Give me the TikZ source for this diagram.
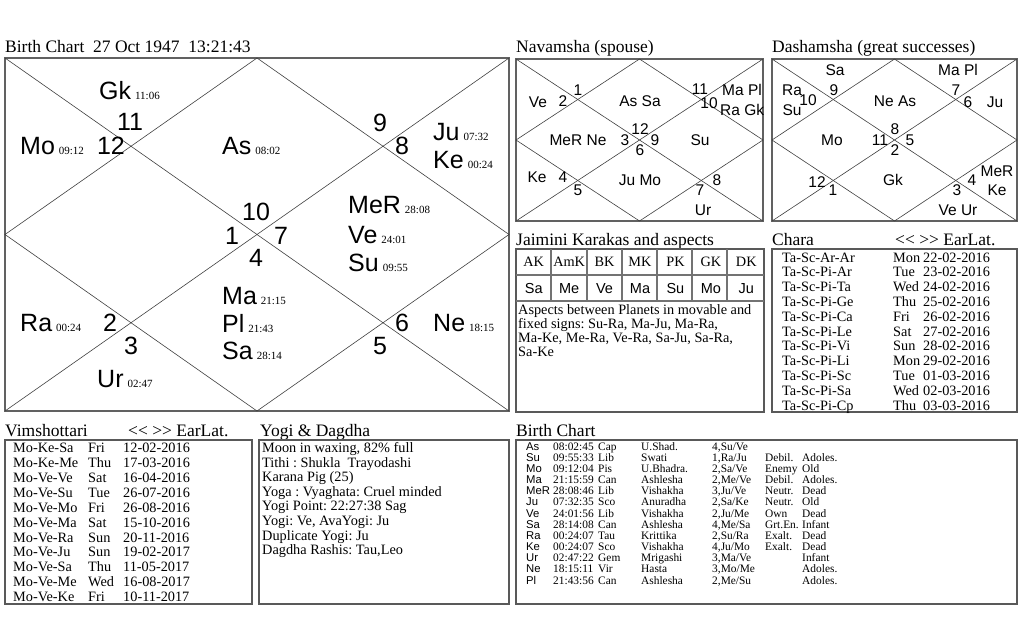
\documentclass[tikz,border=0pt]{standalone}
\usepackage{fontspec}
\setmainfont{Liberation Serif}
\setsansfont{Liberation Sans}
\frenchspacing
\newcommand{\dg}[1]{\hspace{4pt}{\fontsize{11}{11}\rmfamily #1}}
\tikzset{
 box/.style={draw=black!62, line width=2pt},
 tbox/.style={draw=black!65, line width=1.3pt},
 cl/.style={draw=black!75, line width=0.6pt},
 grid/.style={draw=black!55, line width=1.2pt},
 pl/.style={anchor=base west, inner sep=0pt, font=\fontsize{25}{25}\sffamily},
 num/.style={inner sep=0pt, font=\fontsize{25}{25}\sffamily},
 sm/.style={inner sep=0pt, font=\fontsize{15.5}{15.5}\sffamily},
 smw/.style={sm, anchor=west},
 ttl/.style={anchor=base west, inner sep=0pt, font=\fontsize{17.5}{17.5}\selectfont},
 row/.style={anchor=base west, inner sep=0pt, font=\fontsize{14.3}{14.3}\selectfont},
 hd/.style={inner sep=0pt, font=\fontsize{14.3}{14.3}\selectfont},
 hds/.style={inner sep=0pt, font=\fontsize{14.5}{14.5}\sffamily},
 bc/.style={anchor=base west, inner sep=0pt, font=\fontsize{11.4}{11.4}\selectfont},
 bcs/.style={anchor=base west, inner sep=0pt, font=\fontsize{11.3}{11.3}\sffamily},
}
\newcommand{\bcrow}[8]{%
 \pgfmathsetmacro{\yb}{450+#1*11.17}
 \node[bcs] (bn#1) at (526,\yb) {#2};
 \node[bc] (bd#1) at (553,\yb) {#3};
 \node[bc] (bs#1) at (598,\yb) {#4};
 \node[bc] (bk#1) at (641,\yb) {#5};
 \node[bc] (bp#1) at (712,\yb) {#6};
 \node[bc] (bg#1) at (765,\yb) {#7};
 \node[bc] (ba#1) at (802,\yb) {#8};
}
\newcommand{\vrow}[4]{%
 \pgfmathsetmacro{\yb}{452.6+#1*14.9}
 \node[row] (va#1) at (13,\yb) {#2};
 \node[row] (vb#1) at (88,\yb) {#3};
 \node[row] (vc#1) at (123,\yb) {#4};
}
\newcommand{\crow}[4]{%
 \pgfmathsetmacro{\yb}{262+#1*14.8}
 \node[row] (ca#1) at (782,\yb) {#2};
 \node[row] (cb#1) at (893,\yb) {#3};
 \node[row] (cc#1) at (923,\yb) {#4};
}
\begin{document}
\frenchspacing
\begin{tikzpicture}[x=1pt,y=-1pt]
\useasboundingbox (0,0) rectangle (1024,640);
\fill[white] (0,0) rectangle (1024,640);

% ---------------- main chart
\node[ttl] (t1) at (5,52.5) {Birth Chart\ \ 27 Oct 1947\ \ 13:21:43};
\draw[box] (5,58) rectangle (509,411);
\draw[cl] (5,58) -- (509,411);
\draw[cl] (509,58) -- (5,411);
\draw[cl] (257,58) -- (509,234.5) -- (257,411) -- (5,234.5) -- cycle;

\node[pl] (gk) at (99,99.6) {Gk\dg{11:06}};
\node[pl] (mo) at (20,154.6) {Mo\dg{09:12}};
\node[pl] (as) at (222,154.6) {As\dg{08:02}};
\node[pl] (ju) at (433,140) {Ju\dg{07:32}};
\node[pl] (ke) at (433,168.6) {Ke\dg{00:24}};
\node[pl] (mer) at (348,213.6) {MeR\dg{28:08}};
\node[pl] (ve) at (348,243.6) {Ve\dg{24:01}};
\node[pl] (su) at (348,271.6) {Su\dg{09:55}};
\node[pl] (ma) at (222,304.6) {Ma\dg{21:15}};
\node[pl] (pl) at (222,332.6) {Pl\dg{21:43}};
\node[pl] (sa) at (222,359.6) {Sa\dg{28:14}};
\node[pl] (ra) at (20,331.6) {Ra\dg{00:24}};
\node[pl] (ur) at (97,387.6) {Ur\dg{02:47}};
\node[pl] (ne) at (433,331.6) {Ne\dg{18:15}};

\node[num] (h11) at (130,122) {11};
\node[num] (h12) at (111,146) {12};
\node[num] (h9) at (380,123) {9};
\node[num] (h8) at (402,146) {8};
\node[num] (h10) at (256,212) {10};
\node[num] (h1) at (232,236) {1};
\node[num] (h7) at (281,236) {7};
\node[num] (h4) at (256,258) {4};
\node[num] (h2) at (110,323) {2};
\node[num] (h3) at (131,346) {3};
\node[num] (h6) at (402,323) {6};
\node[num] (h5) at (380,346) {5};

% ---------------- Navamsha
\node[ttl] (t2) at (516,52.5) {Navamsha (spouse)};
\draw[box] (516,59) rectangle (763,221);
\draw[cl] (516,59) -- (763,221);
\draw[cl] (763,59) -- (516,221);
\draw[cl] (639.5,59) -- (763,140) -- (639.5,221) -- (516,140) -- cycle;
\node[sm] (n1) at (578,90) {1};
\node[sm] (n2) at (563,101) {2};
\node[sm] (nve) at (538,102) {Ve};
\node[sm] (nas) at (640,101) {As Sa};
\node[sm] (n11) at (700,89) {11};
\node[sm] (n10) at (709,103) {10};
\node[smw] (nma) at (722,90) {Ma Pl};
\node[smw] (nra) at (720,110) {Ra Gk};
\node[sm] (nmer) at (578,140) {MeR Ne};
\node[sm] (n3) at (625,140) {3};
\node[sm] (n12) at (640,129) {12};
\node[sm] (n9) at (655,140) {9};
\node[sm] (n6) at (640,150) {6};
\node[sm] (nsu) at (700,140) {Su};
\node[sm] (nke) at (537,177) {Ke};
\node[sm] (n4) at (563,177) {4};
\node[sm] (n5) at (578,190) {5};
\node[sm] (nju) at (640,180) {Ju Mo};
\node[sm] (n8) at (717,180) {8};
\node[sm] (n7) at (700,190) {7};
\node[sm] (nur) at (703,210) {Ur};

% ---------------- Dashamsha
\node[ttl] (t3) at (772,52.5) {Dashamsha (great successes)};
\draw[box] (772,59) rectangle (1017,221);
\draw[cl] (772,59) -- (1017,221);
\draw[cl] (1017,59) -- (772,221);
\draw[cl] (894.5,59) -- (1017,140) -- (894.5,221) -- (772,140) -- cycle;
\node[sm] (dsa) at (835,70) {Sa};
\node[sm] (dra) at (792,90) {Ra};
\node[sm] (dsu) at (792,110) {Su};
\node[sm] (d10) at (808,100) {10};
\node[sm] (d9) at (834,90) {9};
\node[sm] (dne) at (895,101) {Ne As};
\node[sm] (dma) at (958,70) {Ma Pl};
\node[sm] (d7) at (956,90) {7};
\node[sm] (d6) at (968,102) {6};
\node[sm] (dju) at (995,102) {Ju};
\node[sm] (dmo) at (832,140) {Mo};
\node[sm] (d11) at (880,140) {11};
\node[sm] (d8) at (895,129) {8};
\node[sm] (d5) at (910,140) {5};
\node[sm] (d2) at (895,150) {2};
\node[sm] (d12) at (817,182) {12};
\node[sm] (d1) at (833,190) {1};
\node[sm] (dgk) at (893,180) {Gk};
\node[sm] (dmer) at (997,171) {MeR};
\node[sm] (dke) at (997,190) {Ke};
\node[sm] (d4) at (972,180) {4};
\node[sm] (d3) at (957,190) {3};
\node[sm] (dve) at (958,210) {Ve Ur};

% ---------------- Jaimini
\node[ttl] (t4) at (516,245) {Jaimini Karakas and aspects};
\draw[tbox] (516,249) rectangle (764,412);
\draw[grid] (516,275) -- (764,275);
\draw[grid] (516,301) -- (764,301);
\foreach \x in {551,587,622,657,692,727} \draw[grid] (\x,249) -- (\x,301);
\foreach \t [count=\i] in {AK,AmK,BK,MK,PK,GK,DK} {
  \pgfmathsetmacro{\cx}{516+(\i-0.5)*35.43}
  \node[hd] (jh\i) at (\cx,262) {\t};
}
\foreach \t [count=\i] in {Sa,Me,Ve,Ma,Su,Mo,Ju} {
  \pgfmathsetmacro{\cx}{516+(\i-0.5)*35.43}
  \node[hds] (jv\i) at (\cx,288.5) {\t};
}
\node[row] (ja1) at (518,314.5) {Aspects between Planets in movable and};
\node[row] (ja2) at (518,328.5) {fixed signs: Su-Ra, Ma-Ju, Ma-Ra,};
\node[row] (ja3) at (518,342.5) {Ma-Ke, Me-Ra, Ve-Ra, Sa-Ju, Sa-Ra,};
\node[row] (ja4) at (518,356.5) {Sa-Ke};

% ---------------- Chara
\node[ttl] (t5) at (772,245) {Chara};
\node[ttl] (t5b) at (895,245) {<\kern0pt< >\kern0pt> EarLat.};
\draw[tbox] (772,249) rectangle (1017,412);
\crow{0}{Ta-Sc-Ar-Ar}{Mon}{22-02-2016}
\crow{1}{Ta-Sc-Pi-Ar}{Tue}{23-02-2016}
\crow{2}{Ta-Sc-Pi-Ta}{Wed}{24-02-2016}
\crow{3}{Ta-Sc-Pi-Ge}{Thu}{25-02-2016}
\crow{4}{Ta-Sc-Pi-Ca}{Fri}{26-02-2016}
\crow{5}{Ta-Sc-Pi-Le}{Sat}{27-02-2016}
\crow{6}{Ta-Sc-Pi-Vi}{Sun}{28-02-2016}
\crow{7}{Ta-Sc-Pi-Li}{Mon}{29-02-2016}
\crow{8}{Ta-Sc-Pi-Sc}{Tue}{01-03-2016}
\crow{9}{Ta-Sc-Pi-Sa}{Wed}{02-03-2016}
\crow{10}{Ta-Sc-Pi-Cp}{Thu}{03-03-2016}

% ---------------- Vimshottari
\node[ttl] (t6) at (5,436) {Vimshottari};
\node[ttl] (t6b) at (128,436) {<\kern0pt< >\kern0pt> EarLat.};
\draw[tbox] (5,440) rectangle (252,604);
\vrow{0}{Mo-Ke-Sa}{Fri}{12-02-2016}
\vrow{1}{Mo-Ke-Me}{Thu}{17-03-2016}
\vrow{2}{Mo-Ve-Ve}{Sat}{16-04-2016}
\vrow{3}{Mo-Ve-Su}{Tue}{26-07-2016}
\vrow{4}{Mo-Ve-Mo}{Fri}{26-08-2016}
\vrow{5}{Mo-Ve-Ma}{Sat}{15-10-2016}
\vrow{6}{Mo-Ve-Ra}{Sun}{20-11-2016}
\vrow{7}{Mo-Ve-Ju}{Sun}{19-02-2017}
\vrow{8}{Mo-Ve-Sa}{Thu}{11-05-2017}
\vrow{9}{Mo-Ve-Me}{Wed}{16-08-2017}
\vrow{10}{Mo-Ve-Ke}{Fri}{10-11-2017}

% ---------------- Yogi & Dagdha
\node[ttl] (t7) at (260,436) {Yogi \& Dagdha};
\draw[tbox] (259,440) rectangle (509,604);
\foreach \t [count=\i from 0] in {Moon in waxing{,} 82\% full, Tithi : Shukla\ \ Trayodashi, Karana Pig (25), Yoga : Vyaghata: Cruel minded, Yogi Point: 22:27:38 Sag, Yogi: Ve{,} AvaYogi: Ju, Duplicate Yogi: Ju, Dagdha Rashis: Tau{,}Leo} {
  \pgfmathsetmacro{\yb}{452.6+\i*14.57}
  \node[row] (y\i) at (262,\yb) {\t};
}

% ---------------- Birth Chart table
\node[ttl] (t8) at (516,436) {Birth Chart};
\draw[tbox] (516,440) rectangle (1017,604);
\bcrow{0}{As}{08:02:45}{Cap}{U.Shad.}{4,Su/Ve}{}{}
\bcrow{1}{Su}{09:55:33}{Lib}{Swati}{1,Ra/Ju}{Debil.}{Adoles.}
\bcrow{2}{Mo}{09:12:04}{Pis}{U.Bhadra.}{2,Sa/Ve}{Enemy}{Old}
\bcrow{3}{Ma}{21:15:59}{Can}{Ashlesha}{2,Me/Ve}{Debil.}{Adoles.}
\bcrow{4}{MeR}{28:08:46}{Lib}{Vishakha}{3,Ju/Ve}{Neutr.}{Dead}
\bcrow{5}{Ju}{07:32:35}{Sco}{Anuradha}{2,Sa/Ke}{Neutr.}{Old}
\bcrow{6}{Ve}{24:01:56}{Lib}{Vishakha}{2,Ju/Me}{Own}{Dead}
\bcrow{7}{Sa}{28:14:08}{Can}{Ashlesha}{4,Me/Sa}{Grt.En.}{Infant}
\bcrow{8}{Ra}{00:24:07}{Tau}{Krittika}{2,Su/Ra}{Exalt.}{Dead}
\bcrow{9}{Ke}{00:24:07}{Sco}{Vishakha}{4,Ju/Mo}{Exalt.}{Dead}
\bcrow{10}{Ur}{02:47:22}{Gem}{Mrigashi}{3,Ma/Ve}{}{Infant}
\bcrow{11}{Ne}{18:15:11}{Vir}{Hasta}{3,Mo/Me}{}{Adoles.}
\bcrow{12}{Pl}{21:43:56}{Can}{Ashlesha}{2,Me/Su}{}{Adoles.}
\end{tikzpicture}
\end{document}
